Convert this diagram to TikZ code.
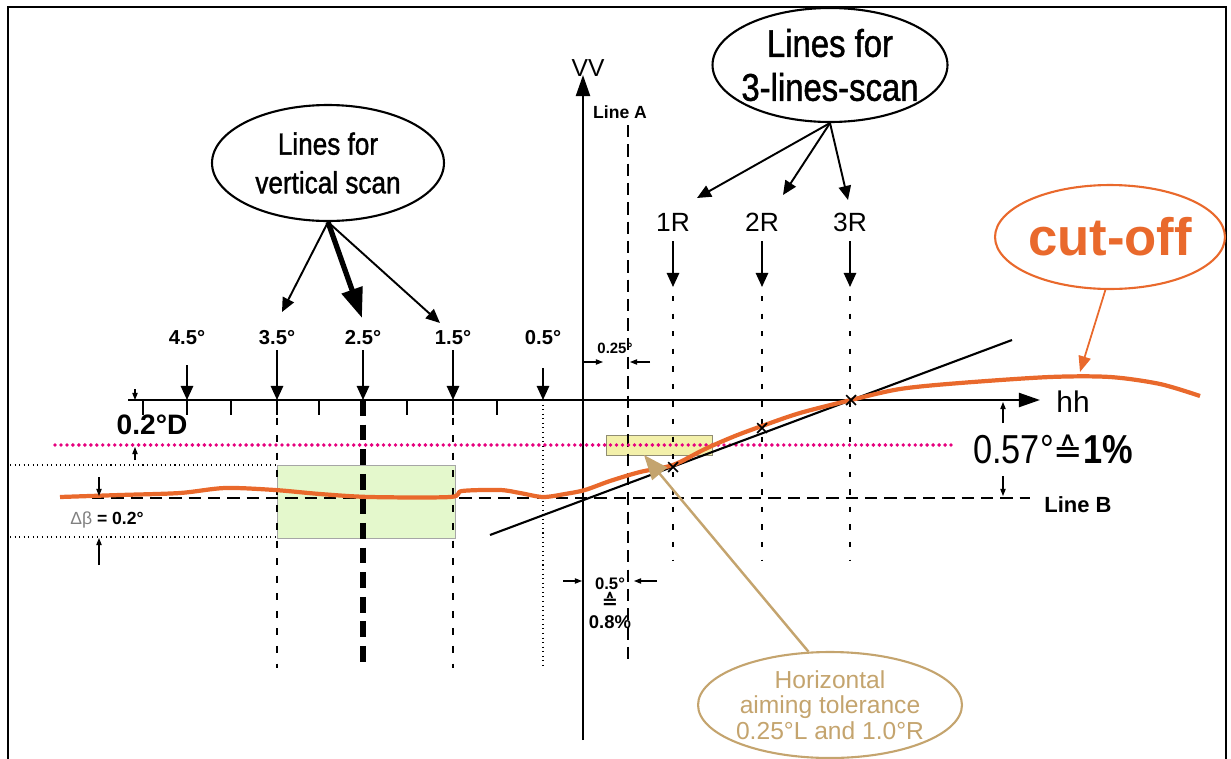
\documentclass[tikz,border=0pt]{standalone}
\usepackage{fontspec}
\setmainfont{Liberation Sans}
\newfontfamily\symfont{DejaVu Sans}
\newfontfamily\narrowfont[FakeStretch=0.85]{Liberation Sans}
\newfontfamily\bubblefont[FakeStretch=0.85, FakeBold=1.2]{Liberation Sans}
\usetikzlibrary{arrows.meta,shapes.geometric,shapes.misc}

\definecolor{cutorange}{HTML}{E9692C}
\definecolor{tolbrown}{HTML}{C4A46E}
\definecolor{limitpink}{HTML}{E6007E}
\definecolor{zonegreen}{HTML}{E4F8CC}
\definecolor{aimyellow}{HTML}{F3F0AA}

\newcommand{\fs}[2]{\fontsize{#1}{#2}\selectfont}
\newcommand{\zw}[1]{\makebox[0pt]{#1}}

\tikzset{
  axisline/.style={line width=1.2pt, -{Triangle[length=12pt,width=8pt]}},
  markarrow/.style={line width=1.1pt, -{Triangle[length=8pt,width=7pt]}},
  smallarrow/.style={line width=0.6pt, -{Triangle[length=4pt,width=3pt]}},
  deglabel/.style={font=\bfseries\fs{11.5}{13}},
  rlabel/.style={font=\fs{15}{18}},
  scanthin/.style={line width=1.2pt, dash pattern=on 4pt off 6pt},
  scanthick/.style={line width=3pt, dash pattern=on 9pt off 5pt},
  scandot/.style={line width=0.6pt, dotted},
  rdash/.style={line width=1.2pt, dash pattern=on 3pt off 7pt},
  bubble/.style={ellipse, draw, line width=1.2pt, align=center, inner sep=0pt},
  xmark/.style={cross out, draw, line width=1pt, minimum size=0.16cm, inner sep=0pt}
}

% degree mark above the hh axis
\newcommand{\degMark}[5]{
  \node[deglabel] (#2Lab) at (#1,338) {#3};
  \coordinate (#2Top) at (#1,#4);
  \coordinate (#2Hit) at (#1,400);
  \coordinate (#2Low) at (#1,668);
  \draw[markarrow] (#2Top) -- (#2Hit);
  \draw[#5] (#2Hit) -- (#2Low);
}
% line of the 3-lines-scan
\newcommand{\rLine}[3]{
  \node[rlabel] (#2Lab) at (#1,222) {#3};
  \coordinate (#2Top) at (#1,241);
  \coordinate (#2Hit) at (#1,287);
  \coordinate (#2Start) at (#1,296);
  \coordinate (#2Low) at (#1,560);
  \draw[markarrow] (#2Top) -- (#2Hit);
  \draw[rdash] (#2Start) -- (#2Low);
}

\begin{document}
\begin{tikzpicture}[x=0.02cm, y=-0.02cm]
  \useasboundingbox (0,0) rectangle (1231,758);
  % frame
  \draw[line width=0.6pt] (8,770) -- (8,7) -- (1226,7) -- (1226,770);

  % zones
  \draw[gray!70, line width=0.5pt, fill=zonegreen] (277,465) rectangle (455,538);
  \draw[gray!80!olive, line width=0.5pt, fill=aimyellow] (606,435) rectangle (712,455);
  \draw[line width=0.6pt, dotted] (10,465) -- (277,465);
  \draw[line width=0.6pt, dotted] (10,537) -- (277,537);

  % axes
  \coordinate (hhStart) at (128,400);
  \coordinate (hhEnd) at (1040,400);
  \coordinate (vvStart) at (583,740);
  \coordinate (vvEnd) at (583,75);
  \draw[axisline] (hhStart) -- (hhEnd);
  \draw[axisline] (vvStart) -- (vvEnd);
  \node[font=\fs{17}{20}] (hh) at (1073,402) {hh};
  \node[font=\fs{14}{16}] (vv) at (588,68) {VV};
  \foreach \tx in {143,187,231,277,319,363,407,453,497}
    \draw[line width=1.2pt] (\tx,400) -- (\tx,415);

  % Line A, Line B
  \coordinate (lineATop) at (628,125);
  \coordinate (lineALow) at (628,665);
  \draw[line width=1.3pt, dash pattern=on 7pt off 4pt] (lineATop) -- (lineALow);
  \node[font=\bfseries\fs{10}{12}] (lineA) at (620,112) {Line A};
  \coordinate (lineBStart) at (92,498);
  \coordinate (lineBEnd) at (1030,498);
  \draw[line width=1.2pt, dash pattern=on 7pt off 4pt] (lineBStart) -- (lineBEnd);
  \node[font=\bfseries\fs{12.5}{15}] (lineB) at (1078,505) {Line B};

  % degree marks
  \degMark{187}{degFour}{4.5°}{365}{draw=none}
  \degMark{277}{degThree}{3.5°}{350}{scanthin}
  \degMark{363}{degTwo}{2.5°}{350}{scanthick}
  \degMark{453}{degOne}{1.5°}{350}{scanthin}
  \degMark{543}{degHalf}{0.5°}{368}{scandot}

  % 3-lines-scan
  \rLine{673}{oneR}{1R}
  \rLine{762}{twoR}{2R}
  \rLine{850}{threeR}{3R}

  % limit line
  \draw[limitpink, line width=2.2pt, line cap=round, dash pattern=on 0pt off 3.4pt] (55,445) -- (955,445);

  % slope line
  \coordinate (slopeStart) at (490,535);
  \coordinate (slopeEnd) at (1012,340);
  \draw[line width=1.2pt] (slopeStart) -- (slopeEnd);

  % cut-off line
  \draw[cutorange, line width=2.4pt, line join=round] plot[smooth, tension=0.5] coordinates {
    (60,497) (120,495) (180,493) (225,488) (275,490) (320,494) (370,497) (450,497)
    (462,491) (500,490) (520,493) (543,497) (565,494) (585,490) (610,481) (640,472)
    (673,465) (705,449) (735,436) (762,426) (800,413) (851,400) (900,389) (960,383)
    (1050,377) (1110,377) (1160,384) (1200,396)};
  \node[xmark] (xOne) at (673,467) {};
  \node[xmark] (xTwo) at (762,428) {};
  \node[xmark] (xThree) at (851,400) {};

  % widths
  \node[font=\bfseries\fs{8.5}{10}] (quarter) at (615,348) {0.25°};
  \coordinate (qL) at (584,362);
  \coordinate (qLTip) at (603,362);
  \coordinate (qR) at (650,362);
  \coordinate (qRTip) at (630,362);
  \draw[smallarrow] (qL) -- (qLTip);
  \draw[smallarrow] (qR) -- (qRTip);
  \node[font=\bfseries\fs{10.5}{12}, align=center] (half) at (610,603)
    {{\fs{9.5}{11}0.5°}\\[-1pt]{\symfont\fs{11}{12}≙}\\[-1pt]0.8\%};
  \coordinate (wL) at (563,581);
  \coordinate (wLTip) at (582,581);
  \coordinate (wR) at (657,581);
  \coordinate (wRTip) at (634,581);
  \draw[smallarrow] (wL) -- (wLTip);
  \draw[smallarrow] (wR) -- (wRTip);

  % heights
  \node[font=\bfseries\fs{16}{18}] (dLab) at (152,425) {0.2°D};
  \coordinate (dA) at (135,389);
  \coordinate (dATip) at (135,400);
  \coordinate (dB) at (135,460);
  \coordinate (dBTip) at (135,447);
  \draw[smallarrow] (dA) -- (dATip);
  \draw[smallarrow] (dB) -- (dBTip);
  \node[font=\fs{10}{12}] (bLab) at (107,520) {\textcolor{gray}{Δβ} \textbf{= 0.2°}};
  \coordinate (bA) at (99,477);
  \coordinate (bATip) at (99,496);
  \coordinate (bB) at (99,565);
  \coordinate (bBTip) at (99,538);
  \draw[smallarrow] (bA) -- (bATip);
  \draw[smallarrow] (bB) -- (bBTip);
  \node[font=\narrowfont\fs{23}{26}] (pLab) at (1053,449) {0.57°{\symfont\fs{20}{24}≙}\textbf{1\%}};
  \coordinate (pA) at (1003,423);
  \coordinate (pATip) at (1003,402);
  \coordinate (pB) at (1003,476);
  \coordinate (pBTip) at (1003,496);
  \draw[smallarrow] (pA) -- (pATip);
  \draw[smallarrow] (pB) -- (pBTip);

  % bubbles
  \node[bubble, minimum width=4.64cm, minimum height=2.32cm, font=\bubblefont\fs{17.5}{22}] (vscan) at (328,163)
    {\zw{Lines for}\\\zw{vertical scan}};
  \coordinate (vsThree) at (282,312);
  \coordinate (vsTwo) at (362,318);
  \coordinate (vsOne) at (440,323);
  \draw[markarrow] (vscan.south) -- (vsThree);
  \draw[line width=3pt, -{Triangle[length=17pt,width=12pt]}] (vscan.south) -- (vsTwo);
  \draw[markarrow] (vscan.south) -- (vsOne);

  \node[bubble, minimum width=4.7cm, minimum height=2.28cm, font=\bubblefont\fs{22}{25}] (lscan) at (830,65)
    {\zw{Lines for}\\\zw{3-lines-scan}};
  \coordinate (lsOne) at (697,198);
  \coordinate (lsTwo) at (783,195);
  \coordinate (lsThree) at (848,200);
  \draw[markarrow] (lscan.south) -- (lsOne);
  \draw[markarrow] (lscan.south) -- (lsTwo);
  \draw[markarrow] (lscan.south) -- (lsThree);

  \node[bubble, draw=cutorange, text=cutorange, minimum width=4.6cm, minimum height=2.08cm,
    font=\bfseries\fs{30}{34}] (cutoff) at (1110,237) {\zw{cut-off}};
  \coordinate (cutTip) at (1080,372);
  \draw[cutorange, line width=1pt, -{Triangle[length=9pt,width=7pt]}] (cutoff.265) -- (cutTip);

  \node[bubble, draw=tolbrown, text=tolbrown, minimum width=5.28cm, minimum height=2.12cm,
    font=\fs{14}{14.5}] (aimtol) at (830,705)
    {\zw{Horizontal}\\\zw{aiming tolerance}\\\zw{0.25°L and 1.0°R}};
  \coordinate (aimTip) at (644,455);
  \draw[tolbrown, line width=1.4pt, -{Triangle[length=14pt,width=11pt]}] (aimtol.112) -- (aimTip);
\end{tikzpicture}
\end{document}
